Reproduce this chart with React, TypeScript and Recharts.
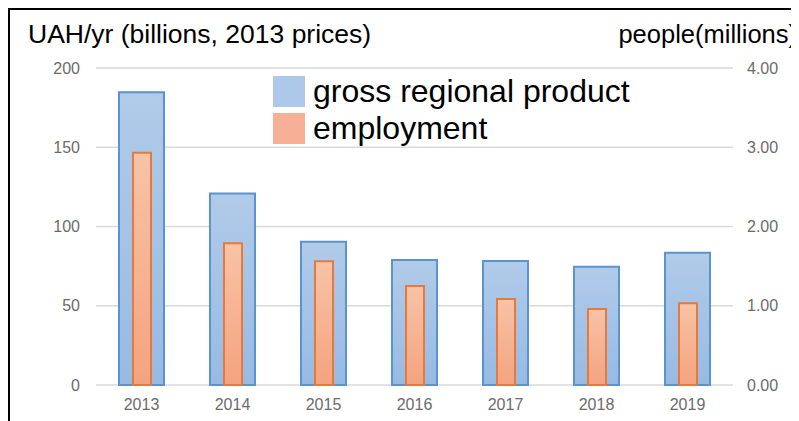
import { ComposedChart, Bar, XAxis, YAxis, CartesianGrid } from 'recharts';

const years = ['2013', '2014', '2015', '2016', '2017', '2018', '2019'];
// UAH billions, 2013 prices
const grossRegionalProduct = [184.7, 120.8, 90.4, 78.8, 78.2, 74.6, 83.5];
// people, millions
const employment = [2.93, 1.79, 1.56, 1.25, 1.085, 0.96, 1.03];

const leftTicks = [0, 50, 100, 150, 200];
const rightTicks = [0, 1, 2, 3, 4];

const data = years.map((year, i) => ({
  year,
  grp: grossRegionalProduct[i],
  emp: employment[i],
}));

const font = '"Liberation Sans", Arial, sans-serif';
const tickStyle = { fill: '#6b6b6b', fontSize: 16, fontFamily: font };

const legendItems = [
  { label: 'gross regional product', color: '#adc8e8' },
  { label: 'employment', color: '#f5b095' },
];

function LegendBox() {
  return (
    <div style={{ position: 'absolute', left: 263, top: 63, fontFamily: font }}>
      {legendItems.map((it) => (
        <div key={it.label} style={{ display: 'flex', alignItems: 'center', height: 37 }}>
          <span style={{ width: 32, height: 31, background: it.color, display: 'inline-block', marginRight: 8 }} />
          <span style={{ fontSize: 32, color: '#000', lineHeight: '31px' }}>{it.label}</span>
        </div>
      ))}
    </div>
  );
}

export default function App() {
  return (
    <div
      style={{
        position: 'relative',
        width: 789,
        height: 411,
        borderTop: '2px solid #000',
        borderLeft: '2px solid #000',
        background: '#fff',
        overflow: 'hidden',
      }}
    >
      <div style={{ position: 'absolute', left: 18, top: 9, fontFamily: font, fontSize: 26.5, color: '#000' }}>
        UAH/yr (billions, 2013 prices)
      </div>
      <div style={{ position: 'absolute', right: 2, top: 10, fontFamily: font, fontSize: 25.5, color: '#000' }}>
        people(millions)
      </div>
      <ComposedChart width={789} height={411} data={data} margin={{ top: 58, right: 4, bottom: 6, left: 26 }}>
        <defs>
          <linearGradient id="blueFill" x1="0" y1="0" x2="0" y2="1">
            <stop offset="0%" stopColor="#b1cbe9" />
            <stop offset="100%" stopColor="#97bae4" />
          </linearGradient>
          <linearGradient id="orangeFill" x1="0" y1="0" x2="0" y2="1">
            <stop offset="0%" stopColor="#f7c3a6" />
            <stop offset="100%" stopColor="#f4a37f" />
          </linearGradient>
        </defs>
        <CartesianGrid vertical={false} stroke="#d9d9d9" strokeWidth={1.5} yAxisId="left" xAxisId="main" />
        <XAxis xAxisId="inner" dataKey="year" orientation="top" height={0} hide />
        <XAxis
          xAxisId="main"
          dataKey="year"
          tick={tickStyle}
          axisLine={false}
          tickLine={false}
          tickSize={6}
          tickMargin={8}
          height={30}
        />
        <YAxis
          yAxisId="left"
          domain={[0, 200]}
          ticks={leftTicks}
          tick={tickStyle}
          axisLine={false}
          tickLine={false}
          tickMargin={10}
          width={60}
        />
        <YAxis
          yAxisId="right"
          orientation="right"
          domain={[0, 4]}
          ticks={rightTicks}
          tickFormatter={(v: number) => v.toFixed(2)}
          tick={tickStyle}
          axisLine={false}
          tickLine={false}
          tickMargin={8}
          width={62}
        />
        <Bar
          dataKey="grp"
          xAxisId="main"
          yAxisId="left"
          barSize={45}
          fill="url(#blueFill)"
          stroke="#5b93cc"
          strokeWidth={2}
          isAnimationActive={false}
        />
        <Bar
          dataKey="emp"
          xAxisId="inner"
          yAxisId="right"
          barSize={18}
          fill="url(#orangeFill)"
          stroke="#e57a3c"
          strokeWidth={2}
          isAnimationActive={false}
        />
      </ComposedChart>
      <LegendBox />
    </div>
  );
}
